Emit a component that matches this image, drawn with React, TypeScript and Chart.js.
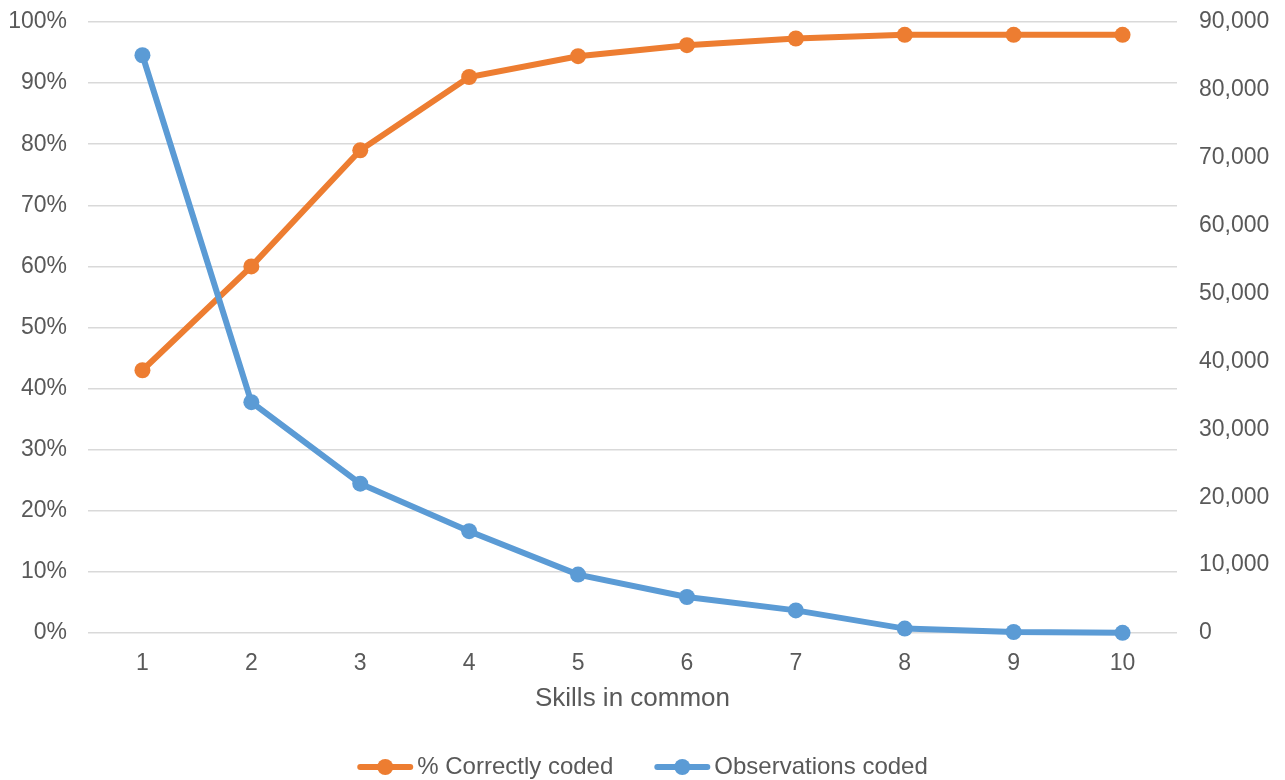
import React, { useEffect, useRef } from "react";
import { Chart, registerables } from "chart.js";

Chart.register(...registerables);

// Number of skills shared between the two records
const skillsInCommon: string[] = ["1", "2", "3", "4", "5", "6", "7", "8", "9", "10"];

// Share of pairs that were coded correctly (0..1)
const pctCorrectlyCoded: number[] = [0.43, 0.6, 0.79, 0.91, 0.944, 0.962, 0.973, 0.979, 0.979, 0.979];

// Number of observations coded at each level
const observationsCoded: number[] = [85100, 34000, 22000, 15000, 8600, 5300, 3330, 650, 150, 30];

const leftTicks: number[] = [0, 0.1, 0.2, 0.3, 0.4, 0.5, 0.6, 0.7, 0.8, 0.9, 1];
const rightTicks: number[] = [0, 10000, 20000, 30000, 40000, 50000, 60000, 70000, 80000, 90000];

const ORANGE = "#ED7D31";
const BLUE = "#5B9BD5";
const TEXT = "#595959";
const GRID = "#D9D9D9";
const FONT = "'Liberation Sans', Arial, sans-serif";

// Legend drawn beneath the axis title: a short line with a marker, then the label
const lineLegend = {
  id: "lineLegend",
  afterDraw(chart: any) {
    const ctx: CanvasRenderingContext2D = chart.ctx;
    const sets = chart.data.datasets;
    const iconW = 56;
    const gapText = 4;
    const gapItem = 41;
    const cy = 767;
    ctx.save();
    ctx.font = `24px ${FONT}`;
    const widths = sets.map((d: any) => ctx.measureText(d.label).width);
    const total =
      widths.reduce((a: number, w: number) => a + iconW + gapText + w, 0) + gapItem * (sets.length - 1);
    let x = chart.width / 2 - total / 2;
    sets.forEach((d: any, i: number) => {
      ctx.strokeStyle = d.borderColor;
      ctx.lineWidth = 6;
      ctx.lineCap = "round";
      ctx.beginPath();
      ctx.moveTo(x + 3, cy);
      ctx.lineTo(x + iconW - 3, cy);
      ctx.stroke();
      ctx.fillStyle = d.pointBackgroundColor;
      ctx.beginPath();
      ctx.arc(x + iconW / 2, cy, 8, 0, Math.PI * 2);
      ctx.fill();
      ctx.fillStyle = TEXT;
      ctx.textBaseline = "middle";
      ctx.textAlign = "left";
      ctx.fillText(d.label, x + iconW + gapText, cy);
      x += iconW + gapText + widths[i] + gapItem;
    });
    ctx.restore();
  },
};

// Fixed axis band sizes; tick labels may overhang the plot edges
function fixVertical(width: number) {
  return (scale: any) => {
    scale.width = width;
    scale.paddingTop = 0;
    scale.paddingBottom = 0;
  };
}

export default function App() {
  const canvasRef = useRef<HTMLCanvasElement | null>(null);

  useEffect(() => {
    if (!canvasRef.current) return;
    const chart = new Chart(canvasRef.current, {
      type: "line",
      data: {
        labels: skillsInCommon,
        datasets: [
          {
            label: "% Correctly coded",
            data: pctCorrectlyCoded,
            yAxisID: "y",
            borderColor: ORANGE,
            backgroundColor: ORANGE,
            pointBackgroundColor: ORANGE,
            pointBorderColor: ORANGE,
            borderWidth: 6,
            pointRadius: 8,
            pointBorderWidth: 0,
            tension: 0,
            order: 1,
            clip: false,
          },
          {
            label: "Observations coded",
            data: observationsCoded,
            yAxisID: "y1",
            borderColor: BLUE,
            backgroundColor: BLUE,
            pointBackgroundColor: BLUE,
            pointBorderColor: BLUE,
            borderWidth: 6,
            pointRadius: 8,
            pointBorderWidth: 0,
            tension: 0,
            order: 0,
            clip: false,
          },
        ],
      },
      options: {
        responsive: false,
        animation: false,
        devicePixelRatio: 1,
        layout: { padding: { top: 22, left: 0, right: 0, bottom: 60 } },
        plugins: {
          legend: { display: false },
          tooltip: { enabled: false },
        },
        scales: {
          x: {
            offset: true,
            grid: { display: false, drawTicks: false },
            border: { display: false },
            ticks: {
              color: TEXT,
              font: { family: FONT, size: 23 },
              padding: 17,
              maxRotation: 0,
            },
            title: {
              display: true,
              text: "Skills in common",
              color: TEXT,
              font: { family: FONT, size: 26 },
              padding: { top: 0, bottom: 6 },
            },
            afterFit(scale: any) {
              scale.height = 87;
              scale.paddingLeft = 0;
              scale.paddingRight = 0;
            },
          },
          y: {
            position: "left",
            min: 0,
            max: 1,
            afterBuildTicks(scale: any) {
              scale.ticks = leftTicks.map((v) => ({ value: v }));
            },
            grid: { color: GRID, lineWidth: 1.5, drawTicks: false },
            border: { display: false },
            ticks: {
              color: TEXT,
              font: { family: FONT, size: 23 },
              padding: 21,
              callback: (v: any) => `${Math.round(Number(v) * 100)}%`,
            },
            afterFit: fixVertical(88),
          },
          y1: {
            position: "right",
            min: 0,
            max: 90000,
            afterBuildTicks(scale: any) {
              scale.ticks = rightTicks.map((v) => ({ value: v }));
            },
            grid: { display: false, drawTicks: false },
            border: { display: false },
            ticks: {
              color: TEXT,
              font: { family: FONT, size: 23 },
              padding: 22,
              callback: (v: any) => Number(v).toLocaleString("en-US"),
            },
            afterFit: fixVertical(108),
          },
        },
      },
      plugins: [lineLegend],
    });
    return () => chart.destroy();
  }, []);

  return (
    <div style={{ position: "fixed", left: 0, top: 0, width: 1285, height: 780, background: "#fff" }}>
      <canvas ref={canvasRef} width={1285} height={780} />
    </div>
  );
}
